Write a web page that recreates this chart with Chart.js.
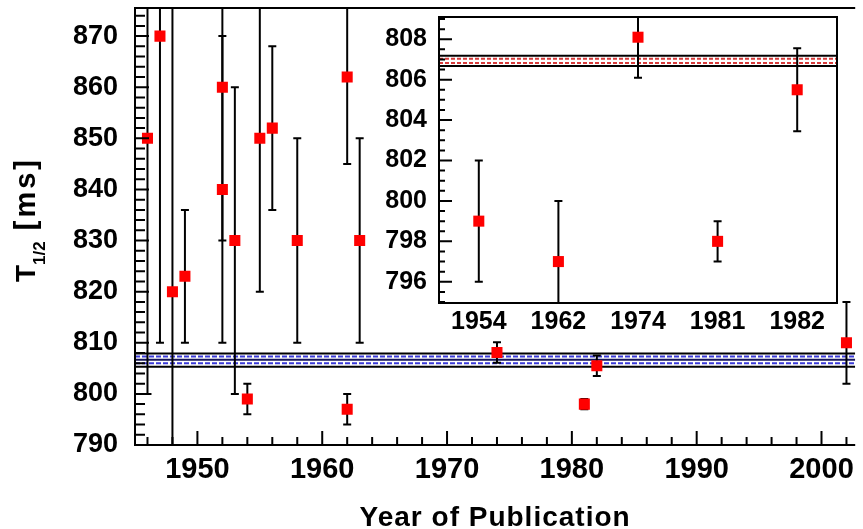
<!DOCTYPE html>
<html>
<head>
<meta charset="utf-8">
<script src="https://cdn.jsdelivr.net/npm/chart.js@4/dist/chart.umd.min.js"></script>
<style>
    html, body { margin: 0; padding: 0; background: #fff; }
    #wrap { position: relative; width: 863px; height: 529px; overflow: hidden; }
    #main { position: absolute; left: 0; top: 0; }
    #inset { position: absolute; left: 360px; top: 0; }
</style>
</head>
<body>
<div id="wrap">
    <canvas id="main" width="863" height="529"></canvas>
    <canvas id="inset" width="500" height="345"></canvas>
</div>
<script>
// Half-life measurements by year of publication
const years     = [1946, 1947, 1948, 1949, 1952, 1952, 1953, 1954, 1955, 1956, 1958, 1962, 1962, 1963, 1974, 1981, 1982, 2002];
const halfLives = [850, 870, 820, 823, 860, 840, 830, 799, 850, 852, 830, 862, 797, 830, 808.1, 798.0, 805.5, 810];
const errors    = [50, 60, 100, 13, 30, 30, 30, 3, 30, 16, 20, 17, 3, 20, 2, 1, 2, 8];

// Inset: the precise measurements only
const insetYears  = ['1954', '1962', '1974', '1981', '1982'];
const insetValues = [799, 797, 808.1, 798.0, 805.5];
const insetErrors = [3, 3, 2, 1, 2.05];

// Average bands
const mainBandSolid  = [805.3, 807.9];
const mainBandDashed = [806.0, 807.3];
const mainBandMean   = [806.7];
const insetBandSolid  = [806.67, 807.18];
const insetBandDashed = [806.83, 807.03];

// Tick labels
const mainXTicks  = [1950, 1960, 1970, 1980, 1990, 2000];
const mainYTicks  = [790, 800, 810, 820, 830, 840, 850, 860, 870];
const insetYTicks = [796, 798, 800, 802, 804, 806, 808];

const FONT = "'Liberation Sans', Arial, Helvetica, sans-serif";

// error bars drawn just before the scatter points
const errorBarPlugin = {
    id: 'errorBars',
    beforeDatasetDraw(chart, args) {
        const ds = chart.data.datasets[args.index];
        if (!ds.errors) return;
        const { ctx, chartArea: a } = chart;
        const ys = chart.scales.y;
        const cap = 4;
        ctx.save();
        ctx.beginPath();
        ctx.rect(a.left, a.top, a.right - a.left, a.bottom - a.top);
        ctx.clip();
        ctx.strokeStyle = '#000';
        ctx.lineWidth = 2;
        args.meta.data.forEach((pt, i) => {
            const d = ds.data[i];
            const v = typeof d === 'object' ? d.y : d;
            const e = ds.errors[i];
            const y1 = ys.getPixelForValue(v - e);
            const y2 = ys.getPixelForValue(v + e);
            ctx.beginPath();
            ctx.moveTo(pt.x, y1); ctx.lineTo(pt.x, y2);
            ctx.moveTo(pt.x - cap, y1); ctx.lineTo(pt.x + cap, y1);
            ctx.moveTo(pt.x - cap, y2); ctx.lineTo(pt.x + cap, y2);
            ctx.stroke();
        });
        ctx.restore();
    }
};

// frame + inward ticks
function framePlugin(cfg) {
    return {
        id: 'frame',
        beforeDraw(chart) {
            if (!cfg.fill) return;
            const { ctx, chartArea: a } = chart;
            ctx.save();
            ctx.fillStyle = '#fff';
            ctx.fillRect(a.left, a.top, a.right - a.left, a.bottom - a.top);
            ctx.restore();
        },
        afterDraw(chart) {
            const { ctx, chartArea: a } = chart;
            const xs = chart.scales.x, ys = chart.scales.y;
            ctx.save();
            ctx.strokeStyle = '#000';
            ctx.lineWidth = 2;
            ctx.beginPath();
            ctx.moveTo(a.left, a.bottom); ctx.lineTo(a.right, a.bottom);
            ctx.moveTo(a.left, a.top); ctx.lineTo(a.right, a.top);
            ctx.moveTo(a.left, a.top - 1); ctx.lineTo(a.left, a.bottom + 1);
            if (cfg.right) { ctx.moveTo(a.right, a.top - 1); ctx.lineTo(a.right, a.bottom + 1); }
            ctx.stroke();

            ctx.beginPath();
            if (cfg.xMinor) {
                for (let v = Math.ceil(xs.min / cfg.xMinor) * cfg.xMinor; v <= xs.max; v += cfg.xMinor) {
                    const x = xs.getPixelForValue(v);
                    const len = Math.abs(v % cfg.xMajor) < 1e-6 ? cfg.xMajorLen : cfg.xMinorLen;
                    ctx.moveTo(x, a.bottom); ctx.lineTo(x, a.bottom - len);
                }
            }
            if (cfg.yMinor) {
                const n0 = Math.ceil(ys.min / cfg.yMinor - 1e-6);
                for (let n = n0; n * cfg.yMinor <= ys.max; n++) {
                    const v = n * cfg.yMinor;
                    const y = ys.getPixelForValue(v);
                    const len = Math.abs(v / cfg.yMajor - Math.round(v / cfg.yMajor)) < 1e-6 ? cfg.yMajorLen : cfg.yMinorLen;
                    ctx.moveTo(a.left, y); ctx.lineTo(a.left + len, y);
                }
            }
            ctx.stroke();

            if (cfg.xTitle) {
                ctx.fillStyle = '#000';
                ctx.font = 'bold 28px ' + FONT;
                ctx.textAlign = 'center';
                ctx.textBaseline = 'alphabetic';
                ctx.letterSpacing = '1px';
                ctx.fillText(cfg.xTitle, (a.left + a.right) / 2, 526);
            }
            if (cfg.yTitle) {
                ctx.fillStyle = '#000';
                ctx.translate(35, 282);
                ctx.rotate(-Math.PI / 2);
                ctx.textAlign = 'left';
                ctx.textBaseline = 'alphabetic';
                ctx.letterSpacing = '0px';
                ctx.font = 'bold 28px ' + FONT;
                ctx.fillText('T', 0, 0);
                let w = ctx.measureText('T').width;
                ctx.font = 'bold 17px ' + FONT;
                ctx.fillText('1/2', w, 10);
                w += ctx.measureText('1/2').width;
                ctx.font = 'bold 29px ' + FONT;
                ctx.letterSpacing = '3px';
                ctx.fillText(' [ms]', w, 0);
            }
            ctx.restore();
        }
    };
}

function hLine(value, x0, x1, color, dash, order) {
    return {
        type: 'line',
        data: [{ x: x0, y: value }, { x: x1, y: value }],
        borderColor: color,
        borderWidth: 2,
        borderDash: dash,
        pointRadius: 0,
        fill: false,
        order: order
    };
}

// pin the plot area: no extra room for half tick labels
const fitY = w => s => { s.width = w; s.paddingTop = 0; s.paddingBottom = 0; };
const fitX = h => s => { s.height = h; s.paddingLeft = 0; s.paddingRight = 0; };

// ---------- main chart ----------
const X0 = 1945, X1 = 2002.7;
const mainDatasets = [{
    type: 'scatter',
    data: years.map((x, i) => ({ x: x, y: halfLives[i] })),
    errors: errors,
    pointStyle: 'rect',
    pointRadius: 7.8,
    backgroundColor: '#ff0000',
    borderWidth: 0,
    order: 0
}];
mainBandDashed.forEach(v => mainDatasets.push(hLine(v, X0, X1, '#3a3ad8', [5, 2], 2)));
mainBandMean.forEach(v => mainDatasets.push(hLine(v, X0, X1, '#14145a', [], 2)));
mainBandSolid.forEach(v => mainDatasets.push(hLine(v, X0, X1, '#000', [], 1)));

new Chart(document.getElementById('main'), {
    type: 'scatter',
    data: { datasets: mainDatasets },
    options: {
        responsive: false,
        animation: false,
        events: [],
        layout: { padding: { top: 8, right: 0, left: 0, bottom: 0 } },
        plugins: { legend: { display: false }, tooltip: { enabled: false } },
        scales: {
            x: {
                type: 'linear',
                min: X0, max: X1,
                afterBuildTicks: s => { s.ticks = mainXTicks.map(v => ({ value: v })); },
                afterFit: fitX(84),
                grid: { display: false, drawTicks: false },
                border: { display: false },
                ticks: { color: '#000', padding: 8, maxRotation: 0, font: { family: FONT, size: 29, weight: 'bold' }, callback: v => String(v) }
            },
            y: {
                min: 790, max: 875.5,
                afterBuildTicks: s => { s.ticks = mainYTicks.map(v => ({ value: v })); },
                afterFit: fitY(135),
                grid: { display: false, drawTicks: false },
                border: { display: false },
                ticks: { color: '#000', padding: 17, font: { family: FONT, size: 27, weight: 'bold' }, callback: v => String(v) }
            }
        }
    },
    plugins: [errorBarPlugin, framePlugin({
        xMinor: 2, xMajor: 10, xMinorLen: 8, xMajorLen: 14,
        yMinor: 2, yMajor: 10, yMinorLen: 10, yMajorLen: 14,
        xTitle: 'Year of Publication', yTitle: true
    })]
});

// ---------- inset ----------
const insetDatasets = [{
    type: 'scatter',
    data: insetValues.map((v, i) => ({ x: i, y: v })),
    errors: insetErrors,
    pointStyle: 'rect',
    pointRadius: 7.8,
    backgroundColor: '#ff0000',
    borderWidth: 0,
    order: 0
}];
insetBandDashed.forEach(v => insetDatasets.push(hLine(v, -0.5, insetYears.length - 0.5, '#d83c3c', [4, 2], 2)));
insetBandSolid.forEach(v => insetDatasets.push(hLine(v, -0.5, insetYears.length - 0.5, '#000', [], 1)));

new Chart(document.getElementById('inset'), {
    type: 'scatter',
    data: { datasets: insetDatasets },
    options: {
        responsive: false,
        animation: false,
        events: [],
        layout: { padding: { top: 17, right: 23, left: 0, bottom: 0 } },
        plugins: { legend: { display: false }, tooltip: { enabled: false } },
        scales: {
            x: {
                type: 'linear',
                min: -0.5, max: insetYears.length - 0.5,
                afterBuildTicks: s => { s.ticks = insetYears.map((_, i) => ({ value: i })); },
                afterFit: fitX(42),
                grid: { display: false, drawTicks: false },
                border: { display: false },
                ticks: { color: '#000', padding: 4, maxRotation: 0, font: { family: FONT, size: 25, weight: 'bold' }, callback: v => insetYears[v] }
            },
            y: {
                min: 794.95, max: 809.1,
                afterBuildTicks: s => { s.ticks = insetYTicks.map(v => ({ value: v })); },
                afterFit: fitY(79),
                grid: { display: false, drawTicks: false },
                border: { display: false },
                ticks: { color: '#000', padding: 12, font: { family: FONT, size: 25, weight: 'bold' }, callback: v => String(v) }
            }
        }
    },
    plugins: [errorBarPlugin, framePlugin({
        fill: true, right: true,
        yMinor: 0.5, yMajor: 2, yMinorLen: 6, yMajorLen: 13
    })]
});
</script>
</body>
</html>
